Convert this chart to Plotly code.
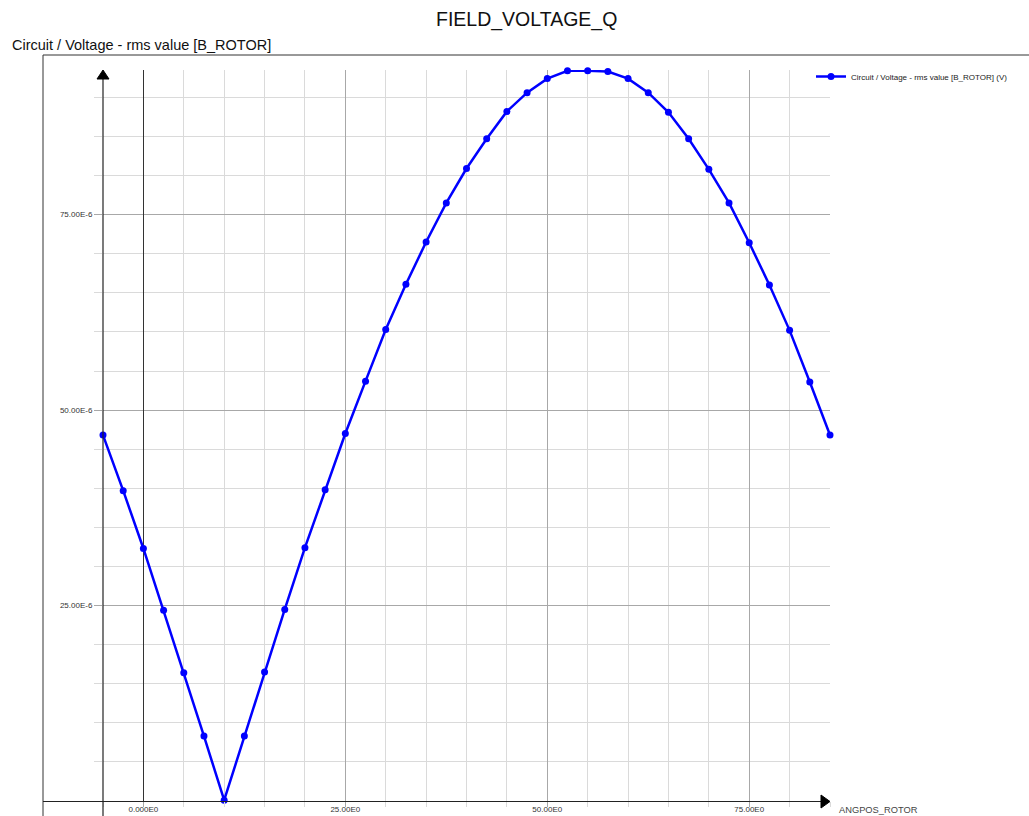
import plotly.graph_objects as go

# ---- data ----
angpos_rotor = [-5, -2.5, 0, 2.5, 5, 7.5, 10, 12.5, 15, 17.5, 20, 22.5, 25, 27.5, 30,
                32.5, 35, 37.5, 40, 42.5, 45, 47.5, 50, 52.5, 55, 57.5, 60, 62.5, 65,
                67.5, 70, 72.5, 75, 77.5, 80, 82.5, 85]
voltage_uV = [46.8, 39.7, 32.3, 24.4, 16.4, 8.3, 0.1, 8.3, 16.5, 24.5, 32.4, 39.8, 47.0,
              53.7, 60.3, 66.1, 71.5, 76.5, 80.9, 84.7, 88.2, 90.6, 92.4, 93.4, 93.4,
              93.3, 92.4, 90.6, 88.1, 84.7, 80.8, 76.5, 71.4, 66.0, 60.2, 53.6, 46.8]
voltage = [v * 1e-6 for v in voltage_uV]

x_tickvals = [0, 25, 50, 75]
x_ticktext = ["0.000E0", "25.00E0", "50.00E0", "75.00E0"]
y_tickvals = [25e-6, 50e-6, 75e-6]
y_ticktext = ["25.00E-6", "50.00E-6", "75.00E-6"]

series_name = "Circuit / Voltage - rms value [B_ROTOR] (V)"
title_text = "FIELD_VOLTAGE_Q"
y_title = "Circuit / Voltage - rms value [B_ROTOR]"
x_title = "ANGPOS_ROTOR"

# ---- layout geometry (pixels) ----
W, H = 1029, 816
L, R, T, B = 103, 830, 70, 801


def px(xp):
    return (xp - L) / (R - L)


def py(yp):
    return (B - yp) / (B - T)


FONT = "Liberation Sans, Arial, sans-serif"
MAJ = "#a8a8a8"
MIN = "#dadada"
DARK = "#222222"

fig = go.Figure()
fig.add_trace(go.Scatter(
    x=angpos_rotor, y=voltage, mode="lines+markers", name=series_name,
    line=dict(color="#0000ff", width=2.5),
    marker=dict(color="#0000ff", size=7, symbol="circle"),
    cliponaxis=False, showlegend=True,
))

shapes = [
    # outer frame
    dict(type="line", xref="paper", yref="paper", x0=px(43), x1=px(1029), y0=py(55), y1=py(55),
         line=dict(color="#333333", width=1)),
    dict(type="line", xref="paper", yref="paper", x0=px(43), x1=px(43), y0=py(55), y1=py(816),
         line=dict(color="#333333", width=1)),
    # x axis line + arrow
    dict(type="line", xref="paper", yref="paper", x0=px(43), x1=px(823), y0=py(801.5), y1=py(801.5),
         line=dict(color=DARK, width=1.2)),
    dict(type="path", xref="paper", yref="paper",
         path=f"M {px(821)} {py(795)} L {px(830)} {py(801.5)} L {px(821)} {py(808)} Z",
         fillcolor="#000000", line=dict(color="#000000", width=1)),
    # y axis line + arrow
    dict(type="line", xref="paper", yref="paper", x0=px(103), x1=px(103), y0=py(78), y1=py(816),
         line=dict(color=DARK, width=1.2)),
    dict(type="path", xref="paper", yref="paper",
         path=f"M {px(97)} {py(79)} L {px(103)} {py(70)} L {px(109)} {py(79)} Z",
         fillcolor="#000000", line=dict(color="#000000", width=1)),
]

annotations = [
    dict(text=title_text, xref="paper", yref="paper", x=px(526), y=py(20),
         xanchor="center", yanchor="middle", showarrow=False,
         font=dict(family=FONT, size=19.5, color="#111111")),
    dict(text=y_title, xref="paper", yref="paper", x=px(10), y=py(45),
         xanchor="left", yanchor="middle", showarrow=False,
         font=dict(family=FONT, size=14.5, color="#111111")),
    dict(text=x_title, xref="paper", yref="paper", x=px(837), y=py(810),
         xanchor="left", yanchor="middle", showarrow=False,
         font=dict(family=FONT, size=9.3, color="#444444")),
]

fig.update_layout(
    width=W, height=H,
    margin=dict(l=L, r=W - R, t=T, b=H - B, pad=0, autoexpand=False),
    paper_bgcolor="white", plot_bgcolor="white",
    font=dict(family=FONT, size=8, color="#333333"),
    shapes=shapes, annotations=annotations,
    showlegend=True,
    legend=dict(x=px(811), y=py(62), xanchor="left", yanchor="top",
                font=dict(family=FONT, size=8, color="#222222"),
                itemwidth=30, bgcolor="rgba(0,0,0,0)", tracegroupgap=0),
    xaxis=dict(
        range=[-5, 85], tickmode="array", tickvals=x_tickvals, ticktext=x_ticktext,
        automargin=False,
        showgrid=True, gridcolor=MAJ, gridwidth=1,
        ticks="outside", ticklen=5, tickcolor=MAJ,
        ticklabelstandoff=-5,
        zeroline=True, zerolinecolor="#333333", zerolinewidth=1,
        showline=False,
        tickfont=dict(family=FONT, size=8, color="#333333"),
        minor=dict(dtick=5, tick0=0, showgrid=True, gridcolor=MIN, gridwidth=1,
                   ticks="outside", ticklen=5, tickcolor=MIN),
    ),
    yaxis=dict(
        range=[0, (B - T) / 7.818 * 1e-6], tickmode="array", tickvals=y_tickvals,
        ticktext=y_ticktext, automargin=False,
        showgrid=True, gridcolor=MAJ, gridwidth=1,
        ticks="outside", ticklen=8, tickcolor=MAJ,
        zeroline=False, showline=False,
        tickfont=dict(family=FONT, size=8, color="#333333"),
        minor=dict(dtick=5e-6, tick0=0, showgrid=True, gridcolor=MIN, gridwidth=1,
                   ticks="outside", ticklen=8, tickcolor=MIN),
    ),
)

fig.write_html("out.html", config={"displayModeBar": False},
               post_script="document.body.style.margin='0';document.body.style.overflow='hidden';")
